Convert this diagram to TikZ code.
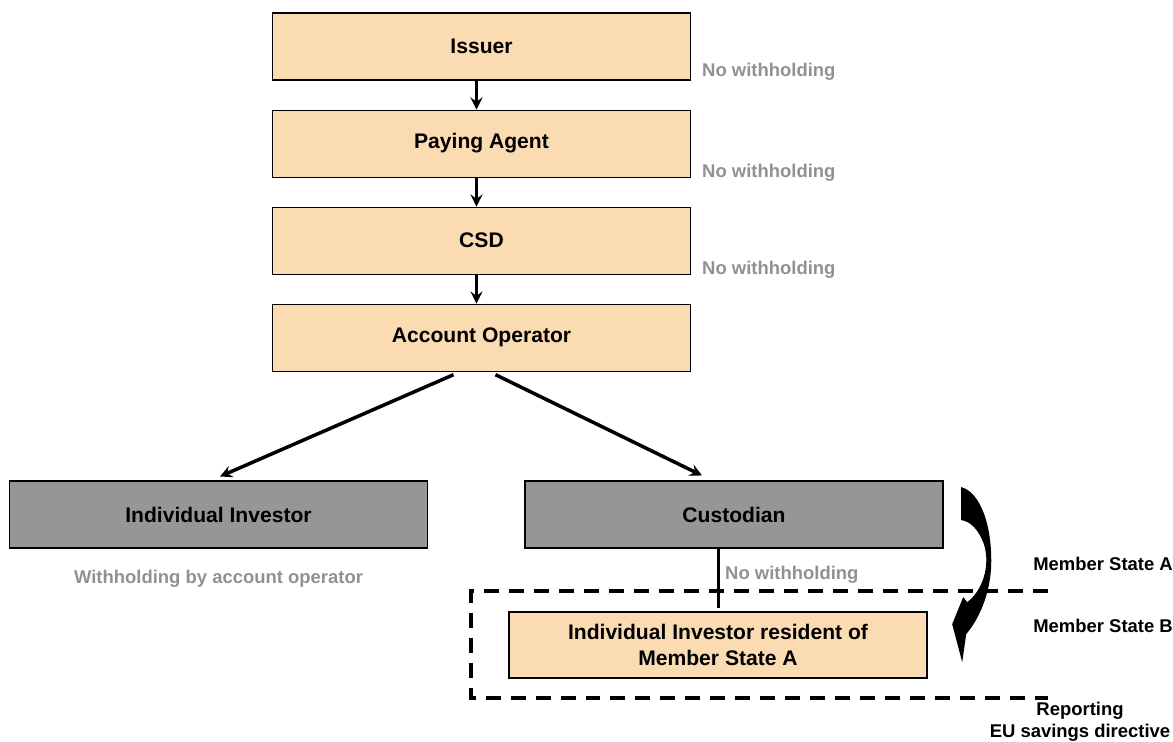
\documentclass[tikz,border=0pt]{standalone}
\usepackage{fontspec}
\setmainfont{Liberation Sans}
\usepackage{tikz}
\usetikzlibrary{positioning}
\usetikzlibrary{shapes.geometric, arrows}
\definecolor{peach}{RGB}{250,219,178}
\definecolor{boxgray}{RGB}{150,150,150}
\definecolor{notegray}{RGB}{145,145,145}
\tikzstyle{arrow} = [line width=2pt,->,>=stealth]
\tikzstyle{link} = [line width=1.7pt]
\tikzstyle{lightbox} = [draw,line width=0.6pt,fill=peach,minimum width=8.36cm,minimum height=1.34cm,align=center,font=\fontsize{12}{14.5}\selectfont\bfseries]
\tikzstyle{darkbox} = [lightbox,fill=boxgray]
\tikzstyle{note} = [text=notegray,font=\fontsize{10.5}{12.5}\selectfont\bfseries]
\tikzstyle{statelabel} = [inner sep=0pt,font=\fontsize{10.5}{12.5}\selectfont\bfseries]
\tikzstyle{border} = [line width=2.3pt,dash pattern=on 8.5pt off 5.7pt]

\begin{document}
\begin{tikzpicture}
	\useasboundingbox (0,0) rectangle (23.46,-14.84);
	
	%Nodes
	\node [lightbox] (Issuer) at (9.63,-0.93) {Issuer};
	\node [lightbox, below=0.58cm of Issuer] (Paying) {Paying Agent};
	\node [lightbox, below=0.58cm of Paying] (CSD) {CSD};
	\node [lightbox, below=0.58cm of CSD] (AO) {Account Operator};
	\node [darkbox] (Ind) at (4.37,-10.29) {Individual Investor};
	\node [darkbox] (Cust) at (14.68,-10.29) {Custodian};
	\node [lightbox, minimum height=1.32cm] (Res) at (14.36,-12.9) {Individual Investor resident of\\Member State A};
	
	%Notes
	\node [note, anchor=west] at ([xshift=0.1cm,yshift=0.18cm]Issuer.south east) (NoteIssuer) {No withholding};
	\node [note, anchor=west] at ([xshift=0.1cm,yshift=0.1cm]Paying.south east) (NotePaying) {No withholding};
	\node [note, anchor=west] at ([xshift=0.1cm,yshift=0.1cm]CSD.south east) (NoteCSD) {No withholding};
	\node [note, below=0.3cm of Ind] (NoteInd) {Withholding by account operator};
	\node [note, anchor=west] at (14.38,-11.5) (NoteCust) {No withholding};
	\node [statelabel, anchor=west] at (20.66,-11.28) (StateA) {Member State A};
	\node [statelabel, anchor=west] at (20.66,-12.52) (StateB) {Member State B};
	\node [statelabel, align=center] at (21.6,-14.44) (Reporting) {Reporting\\EU savings directive};
	
	%Lines
	\draw[arrow] ([xshift=-0.1cm]Issuer.south) -- ([xshift=-0.1cm]Paying.north);
	\draw[arrow] ([xshift=-0.1cm]Paying.south) -- ([xshift=-0.1cm]CSD.north);
	\draw[arrow] ([xshift=-0.1cm]CSD.south) -- ([xshift=-0.1cm]AO.north);
	\draw[arrow] ([xshift=-0.56cm,yshift=-0.06cm]AO.south) -- ([xshift=0.03cm,yshift=0.08cm]Ind.north);
	\draw[arrow] ([xshift=0.28cm,yshift=-0.06cm]AO.south) -- ([xshift=-0.64cm,yshift=0.1cm]Cust.north);
	\draw[link] (Res.north |- Cust.south) -- ([yshift=0.06cm]Res.north);
	
	%Border between the member states
	\draw[border] (20.96,-11.82) -- (9.42,-11.82) -- (9.42,-13.96) -- (20.96,-13.96);
	
	%Curved arrow
	\fill[black, x=0.02cm, y=-0.02cm] (961,487) .. controls (980,492) and (992,525) .. (991,565)
		.. controls (990,595) and (978,620) .. (966,634) -- (962,662) -- (952,624) -- (963,597) -- (967,602)
		.. controls (983,590) and (990,565) .. (984,545) .. controls (979,530) and (970,521) .. (961,520) -- cycle;
	
\end{tikzpicture}
\end{document}
